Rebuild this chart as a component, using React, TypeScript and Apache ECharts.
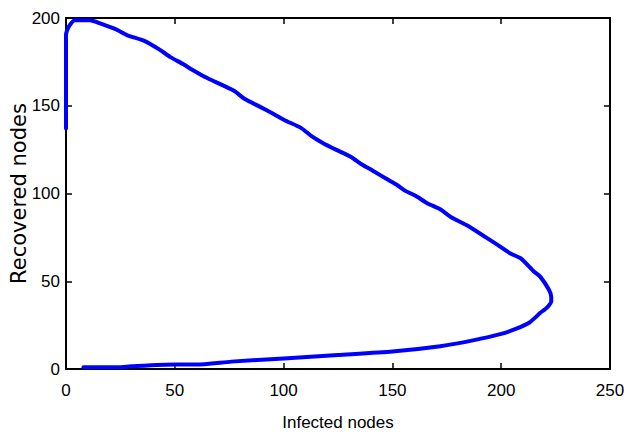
import React, { useEffect, useRef } from "react";
import * as echarts from "echarts";

const infected = [8, 24, 30, 50, 60, 76, 100, 125, 150, 172, 187, 200, 207, 213, 218, 221, 223, 223, 222, 218, 215, 209, 204, 198, 193, 184, 177, 172, 166, 161, 156, 152, 147, 141, 136, 131, 124, 118, 113, 108, 101, 95, 89, 82, 77, 68, 63, 58, 54, 48, 43, 36, 28, 23, 16, 11, 4, 2, 0.5, 0, 0];
const recovered = [1, 1, 1.5, 2.5, 2.5, 4.2, 6, 8, 10, 13, 16.3, 20, 23, 26.5, 32, 35, 38.5, 41, 45, 52.5, 55.6, 63, 66, 71, 75, 82, 86.5, 91, 94.5, 98.4, 101.5, 105, 108.5, 113, 116.5, 120.8, 125, 128.8, 132.5, 137.4, 141.5, 145.6, 149.5, 154, 158.7, 164, 167, 170.5, 173.6, 177.7, 182, 187, 190.3, 193.5, 196.8, 198.7, 198.7, 196.4, 193, 190, 137];

const xTitle = "Infected nodes";
const yTitle = "Recovered nodes";
const xRange = [0, 250];
const yRange = [0, 200];
const tickStep = 50;

const tickFont = "'Liberation Sans', Arial, Helvetica, sans-serif";

export default function App() {
  const ref = useRef<HTMLDivElement>(null);
  useEffect(() => {
    if (!ref.current) return;
    const chart = echarts.init(ref.current, null, { renderer: "svg" });
    const points = infected.map((v, i) => [v, recovered[i]]);
    const lineStyle = { color: "#000", width: 2 };
    const tick = { show: true, inside: true, length: 6, lineStyle: { color: "#000", width: 1.5 } };
    chart.setOption({
      animation: false,
      backgroundColor: "#fff",
      grid: { left: 66, right: 14, top: 18, bottom: 67, containLabel: false, outerBoundsMode: "none" },
      xAxis: [
        {
          type: "value",
          min: xRange[0],
          max: xRange[1],
          interval: tickStep,
          position: "bottom",
          name: xTitle,
          nameLocation: "middle",
          nameGap: 45,
          nameMoveOverlap: false,
          nameTextStyle: { fontFamily: tickFont, fontSize: 17, color: "#000" },
          axisLine: { show: true, onZero: false, lineStyle },
          axisTick: tick,
          axisLabel: { fontFamily: tickFont, fontSize: 17, color: "#000", margin: 13 },
          splitLine: { show: false },
        },
        {
          type: "value",
          min: xRange[0],
          max: xRange[1],
          interval: tickStep,
          position: "top",
          axisLine: { show: true, onZero: false, lineStyle },
          axisTick: tick,
          axisLabel: { show: false },
          splitLine: { show: false },
        },
      ],
      yAxis: [
        {
          type: "value",
          min: yRange[0],
          max: yRange[1],
          interval: tickStep,
          position: "left",
          name: yTitle,
          nameLocation: "middle",
          nameGap: 37,
          nameMoveOverlap: false,
          nameTextStyle: { fontFamily: "'DejaVu Sans', sans-serif", fontSize: 21, color: "#000" },
          axisLine: { show: true, onZero: false, lineStyle },
          axisTick: tick,
          axisLabel: { fontFamily: tickFont, fontSize: 17, color: "#000", margin: 6 },
          splitLine: { show: false },
        },
        {
          type: "value",
          min: yRange[0],
          max: yRange[1],
          interval: tickStep,
          position: "right",
          axisLine: { show: true, onZero: false, lineStyle },
          axisTick: tick,
          axisLabel: { show: false },
          splitLine: { show: false },
        },
      ],
      series: [
        {
          type: "line",
          xAxisIndex: 0,
          yAxisIndex: 0,
          data: points,
          showSymbol: false,
          symbol: "none",
          smooth: 0.2,
          lineStyle: { color: "#0000ff", width: 4, join: "round", cap: "round" },
        },
      ],
    });
    return () => chart.dispose();
  }, []);
  return <div ref={ref} style={{ width: 624, height: 436, position: "absolute", left: 0, top: 0 }} />;
}
